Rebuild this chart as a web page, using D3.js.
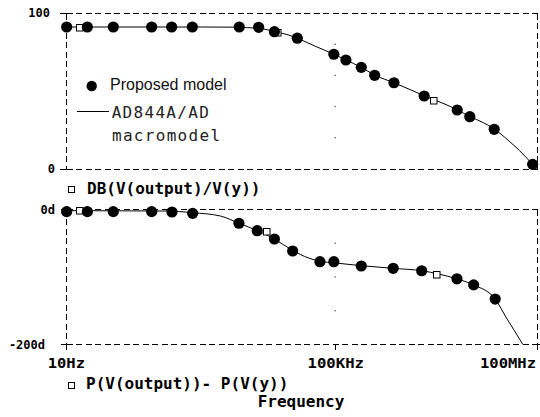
<!DOCTYPE html>
<html><head><meta charset="utf-8">
<script src="https://cdn.jsdelivr.net/npm/d3@7"></script>
<style>
html,body{margin:0;padding:0;background:#fff;}
svg{display:block;}
</style></head>
<body>
<svg id="chart" width="540" height="417"></svg>
<script>
// ---- data ----
const xTickVals = [10, 1e5, 1e8];
const xTickLabels = ["10Hz", "100KHz", "100MHz"];
const magTicks = [0, 100];
const magTickLabels = ["0", "100"];
const phaseTicks = [-200, 0];
const phaseTickLabels = ["-200d", "0d"];
const magGrid = [20, 40, 60, 80];
const phaseGrid = [-150, -100, -50];

// Proposed model (circles)
const magDotFreq = [10.4, 21.1, 51.2, 190, 376, 762, 3.79e3, 7.35e3, 1.26e4, 2.75e4, 9.6e4, 1.45e5, 2.45e5, 3.87e5, 7.49e5, 2.1e6, 6.5e6, 1.0e7, 2.3e7, 8.55e7];
const magDotVal  = [91.0, 91.0, 91.0, 91.0, 91.0, 91.0, 91.0, 90.8, 88.0, 83.8, 73.5, 69.8, 65.1, 60.0, 55.2, 46.7, 37.7, 33.4, 25.3, 2.8];
const phaseDotFreq = [10.4, 21.1, 51.2, 190, 380, 770, 3.75e3, 7.0e3, 1.26e4, 2.35e4, 5.97e4, 9.6e4, 2.45e5, 7.3e5, 1.93e6, 6.44e6, 1.14e7, 2.38e7];
const phaseDotVal  = [-3.5, -3.5, -3.5, -3.5, -4, -6, -20.7, -31.7, -44, -61.8, -77.6, -77.6, -84, -87.4, -91, -103, -112, -133];

// AD844A/AD macromodel (line)
const magLineFreq = [10, 1e3, 3e3, 5e3, 8e3, 1.26e4, 2e4, 2.75e4, 5e4, 9.6e4, 1.45e5, 2.45e5, 3.87e5, 7.5e5, 1.3e6, 2.1e6, 4e6, 6.5e6, 1e7, 1.6e7, 2.3e7, 3.7e7, 5.5e7, 8e7, 1e8];
const magLineVal  = [91.0, 91.0, 90.9, 90.6, 90.0, 88.1, 86.0, 83.8, 78.8, 73.5, 69.8, 65.1, 60.1, 55.2, 50.8, 46.8, 42.0, 37.8, 33.5, 29.5, 25.5, 18.3, 11.5, 4.2, 0];
const phaseLineFreq = [10, 300, 770, 2e3, 3.75e3, 7e3, 1.26e4, 2.35e4, 4e4, 6e4, 1e5, 2.45e5, 7.3e5, 1.93e6, 3.5e6, 6.4e6, 1.14e7, 2.38e7, 3.5e7, 4.6e7, 6.1e7];
const phaseLineVal  = [-2, -2.5, -5, -10, -20.7, -31.5, -44, -61, -72, -77, -79.5, -83.5, -87.5, -91, -96, -103, -112, -133, -161, -180, -200];

// trace markers (squares on the line)
const magMarkFreq = [16.2, 1.4e4, 2.93e6];
const magMarkVal  = [91.0, 87.6, 43.7];
const phaseMarkFreq = [16.2, 9.66e3, 3.25e6];
const phaseMarkVal  = [-2, -33.2, -96.9];

// ---- scales ----
const svg = d3.select("#chart");
const x = d3.scaleLog().domain([10, 1e8]).range([65.5, 537.2]);
const yTop = d3.scaleLinear().domain([0, 100]).range([168.7, 13]);
const yBot = d3.scaleLinear().domain([-200, 0]).range([344.3, 209.3]);
const px = v => Math.round(v) + 0.5;
const mono = "'DejaVu Sans Mono', monospace";

// ---- frames ----
function frame(yScale, d0, d1) {
  const x0 = px(x(10)), x1 = px(x(1e8));
  const yT = px(yScale(d1)), yB = px(yScale(d0));
  const g = svg.append("g").attr("stroke", "#000").attr("stroke-width", 1)
    .attr("stroke-dasharray", "6,3.5").attr("shape-rendering", "crispEdges");
  g.append("line").attr("x1", x0).attr("x2", x1).attr("y1", yT).attr("y2", yT);
  g.append("line").attr("x1", x0).attr("x2", x1).attr("y1", yB).attr("y2", yB);
  g.append("line").attr("x1", x0).attr("x2", x0).attr("y1", yT).attr("y2", yB);
  g.append("line").attr("x1", x1).attr("x2", x1).attr("y1", yT).attr("y2", yB);
}
frame(yTop, 0, 100);
frame(yBot, -200, 0);

// ---- axes (ticks) ----
const axTop = svg.append("g").attr("transform", `translate(${px(x(10))},0)`)
  .call(d3.axisLeft(yTop).tickValues(magTicks).tickSize(6.5).tickFormat(""));
axTop.select(".domain").remove();
const axBot = svg.append("g").attr("transform", `translate(${px(x(10))},0)`)
  .call(d3.axisLeft(yBot).tickValues(phaseTicks).tickSize(5.5).tickFormat(""));
axBot.select(".domain").remove();
const axX = svg.append("g").attr("transform", `translate(0,${px(yBot(-200))})`)
  .call(d3.axisBottom(x).tickValues(xTickVals).tickSize(5).tickFormat(""));
axX.select(".domain").remove();
const axR = svg.append("g").attr("transform", `translate(${px(x(1e8))},0)`)
  .call(d3.axisRight(yBot).tickValues([-200]).tickSize(3).tickFormat(""));
axR.select(".domain").remove();
svg.selectAll(".tick line").attr("shape-rendering", "crispEdges").attr("stroke", "#000");

// ---- tick labels ----
const magLabelRight = [55, 50];
magTicks.forEach((v, i) => {
  svg.append("text").attr("x", magLabelRight[i]).attr("y", yTop(v)).attr("dy", "0.36em")
    .attr("text-anchor", "end").attr("font-family", mono).attr("font-weight", "bold")
    .attr("font-size", 12).text(magTickLabels[i]);
});
const phaseLabelRight = [45, 55];
phaseTicks.forEach((v, i) => {
  svg.append("text").attr("x", phaseLabelRight[i]).attr("y", yBot(v)).attr("dy", "0.36em")
    .attr("text-anchor", "end").attr("font-family", mono).attr("font-weight", "bold")
    .attr("font-size", 12).text(phaseTickLabels[i]);
});
const xLabelStart = [47.7, 307.5, 480];
const xLabelLen = [37.3, 56.5, 56];
xTickVals.forEach((v, i) => {
  svg.append("text").attr("x", xLabelStart[i]).attr("y", 368.3)
    .attr("font-family", mono).attr("font-weight", "bold").attr("font-size", 13.5)
    .attr("textLength", xLabelLen[i]).attr("lengthAdjust", "spacingAndGlyphs")
    .text(xTickLabels[i]);
});

// ---- grid dots ----
magGrid.forEach(v => svg.append("rect").attr("x", x(1e5) - 0.5).attr("y", yTop(v) - 0.5)
  .attr("width", 1.3).attr("height", 1.3).attr("fill", "#555"));
phaseGrid.forEach(v => svg.append("rect").attr("x", x(1e5) - 0.5).attr("y", yBot(v) - 0.5)
  .attr("width", 1.3).attr("height", 1.3).attr("fill", "#555"));

// ---- lines ----
function drawLine(freq, vals, yScale) {
  const pts = freq.map((f, i) => [f, vals[i]]);
  svg.append("path").datum(pts)
    .attr("d", d3.line().x(d => x(d[0])).y(d => yScale(d[1])).curve(d3.curveMonotoneX))
    .attr("fill", "none").attr("stroke", "#000").attr("stroke-width", 1);
}
drawLine(magLineFreq, magLineVal, yTop);
drawLine(phaseLineFreq, phaseLineVal, yBot);

// ---- trace markers ----
function drawMarks(freq, vals, yScale) {
  freq.forEach((f, i) => {
    svg.append("rect").attr("x", Math.round(x(f) - 3.5) + 0.5).attr("y", Math.round(yScale(vals[i]) - 3.5) + 0.5)
      .attr("width", 6.5).attr("height", 6.5).attr("fill", "#fff").attr("stroke", "#000")
      .attr("stroke-width", 1);
  });
}
drawMarks(magMarkFreq, magMarkVal, yTop);
drawMarks(phaseMarkFreq, phaseMarkVal, yBot);

// ---- circles ----
function drawDots(freq, vals, yScale) {
  svg.append("g").selectAll("circle").data(freq).join("circle")
    .attr("cx", f => x(f)).attr("cy", (f, i) => yScale(vals[i])).attr("r", 5.6).attr("fill", "#000");
}
drawDots(magDotFreq, magDotVal, yTop);
drawDots(phaseDotFreq, phaseDotVal, yBot);

// ---- legend ----
svg.append("circle").attr("cx", 91.7).attr("cy", 86).attr("r", 5.2).attr("fill", "#000");
svg.append("text").attr("x", 110).attr("y", 89.5).attr("font-family", "'Liberation Sans', Arial, sans-serif")
  .attr("font-size", 16).attr("fill", "#111").text("Proposed model");
svg.append("line").attr("x1", 77.3).attr("x2", 109.3).attr("y1", 111.5).attr("y2", 111.5)
  .attr("stroke", "#000").attr("stroke-width", 1).attr("shape-rendering", "crispEdges");
svg.append("text").attr("x", 111.7).attr("y", 118.3).attr("font-family", mono)
  .attr("font-size", 16).attr("letter-spacing", "1.3px").attr("fill", "#222").text("AD844A/AD");
svg.append("text").attr("x", 112).attr("y", 141).attr("font-family", mono)
  .attr("font-size", 16).attr("letter-spacing", "1.3px").attr("fill", "#222").text("macromodel");

// ---- trace titles ----
svg.append("rect").attr("x", 68.5).attr("y", 186.5).attr("width", 6).attr("height", 6)
  .attr("fill", "#fff").attr("stroke", "#000").attr("shape-rendering", "crispEdges");
svg.append("text").attr("x", 87).attr("y", 194.3).attr("font-family", mono).attr("font-weight", "bold")
  .attr("font-size", 16).text("DB(V(output)/V(y))");
svg.append("rect").attr("x", 68.5).attr("y", 382.5).attr("width", 6).attr("height", 6)
  .attr("fill", "#fff").attr("stroke", "#000").attr("shape-rendering", "crispEdges");
svg.append("text").attr("x", 86).attr("y", 389.3).attr("font-family", mono).attr("font-weight", "bold")
  .attr("font-size", 16).text("P(V(output))- P(V(y))");
svg.append("text").attr("x", 257.7).attr("y", 406.7).attr("font-family", mono).attr("font-weight", "bold")
  .attr("font-size", 16).text("Frequency");
</script>
</body></html>
